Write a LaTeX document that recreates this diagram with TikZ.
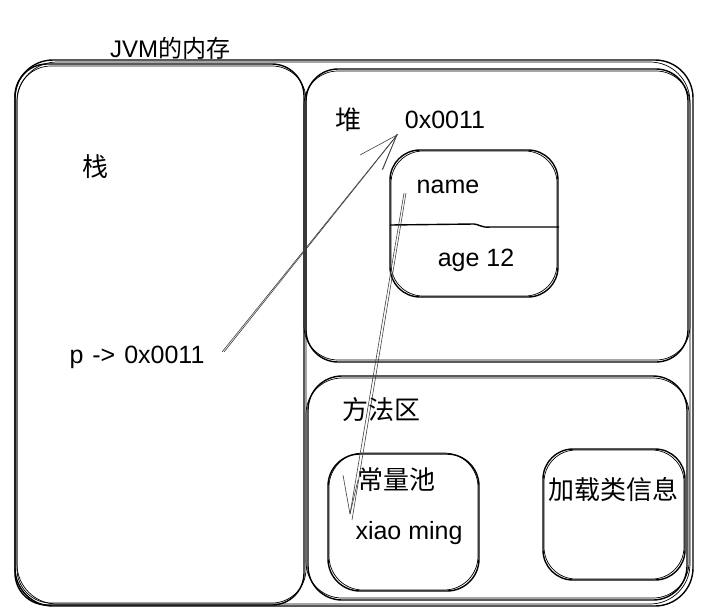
\documentclass[tikz,border=0pt]{standalone}
\usepackage{fontspec}
\setmainfont{Liberation Sans}
\newfontfamily\cjk{Noto Sans CJK SC}
\begin{document}
\begin{tikzpicture}[x=1pt,y=-1pt,
  box/.style={draw=black,line width=1.4pt},
  boxb/.style={draw=black,line width=0.7pt},
  lbl/.style={inner sep=0pt,font=\fontsize{25}{28}\selectfont},
  clbl/.style={inner sep=0pt,font=\cjk\fontsize{26}{29}\selectfont},
  ptr/.style={draw=black!75,line width=0.6pt}]
\useasboundingbox (0,0) rectangle (706,614);
% outer JVM box
\draw[box,rounded corners=38] (15,60) rectangle (693,606);
\draw[boxb,rounded corners=40] (17,62) rectangle (690,604);
% stack
\draw[box,rounded corners=32] (15,64) rectangle (304,605);
\draw[boxb,rounded corners=34] (17,66) rectangle (306,603);
% heap
\draw[box,rounded corners=32] (306,69) rectangle (688,362);
\draw[boxb,rounded corners=34] (304,71) rectangle (690,360);
% method area
\draw[box,rounded corners=34] (308,376) rectangle (687,600);
\draw[boxb,rounded corners=36] (306,378) rectangle (689,598);
% object
\draw[box,rounded corners=30] (390,150) rectangle (558,297);
\draw[boxb,rounded corners=32] (391,151) rectangle (557,296);
\draw[box] (390,225) -- (474,224) .. controls (478,224) and (482,228) .. (490,227) -- (559,227);
% constant pool
\draw[box,rounded corners=32] (328,454) rectangle (479,591);
\draw[boxb,rounded corners=34] (329,453) rectangle (478,590);
% class info
\draw[box,rounded corners=30] (543,449) rectangle (685,580);
\draw[boxb,rounded corners=32] (544,450) rectangle (684,579);

% texts
\node[inner sep=0pt] (title) at (170,48) {\fontsize{24}{26}\selectfont JVM\cjk 的内存};
\node[clbl] (zhan) at (95,167) {栈};
\node[lbl] (p) at (137,357) {p\hspace{2pt} ->\hspace{2pt} 0x0011};
\node[clbl] (dui) at (348,120) {堆};
\node[lbl] (addr) at (445,120) {0x0011};
\node[lbl] (name) at (448,187) {name};
\node[lbl] (age) at (476,260) {age 12};
\node[clbl] (ff) at (381,410) {方法区};
\node[clbl] (cl) at (396,480) {常量池};
\node[lbl] (xm) at (409,533) {xiao ming};
\node[clbl] (jz) at (613,490) {加载类信息};

% arrow 1: p -> 0x0011
\coordinate (a1s) at (222,352);
\coordinate (a1t) at (397,135);
\coordinate (a1l) at (360,155);
\coordinate (a1r) at (382,170);
\draw[ptr] (a1s) -- (a1t);
\draw[ptr] ([xshift=2pt]a1s) -- ([xshift=1pt,yshift=1pt]a1t);
\draw[ptr] (a1t) -- (a1l);
\draw[ptr] (a1t) -- (a1r);
\draw[ptr] ([yshift=1pt]a1t) -- ([xshift=1pt,yshift=1pt]a1r);
% arrow 2: name -> xiao ming
\coordinate (a2s) at (404,193);
\coordinate (a2t) at (350,514);
\coordinate (a2l) at (343,475);
\draw[ptr] (a2s) -- (a2t);
\draw[ptr] ([xshift=2pt]a2s) -- ([xshift=2pt,yshift=-6pt]a2t);
\draw[ptr] (a2t) -- (a2l);
\draw[ptr] (a2t) -- (358,480);
\end{tikzpicture}
\end{document}
